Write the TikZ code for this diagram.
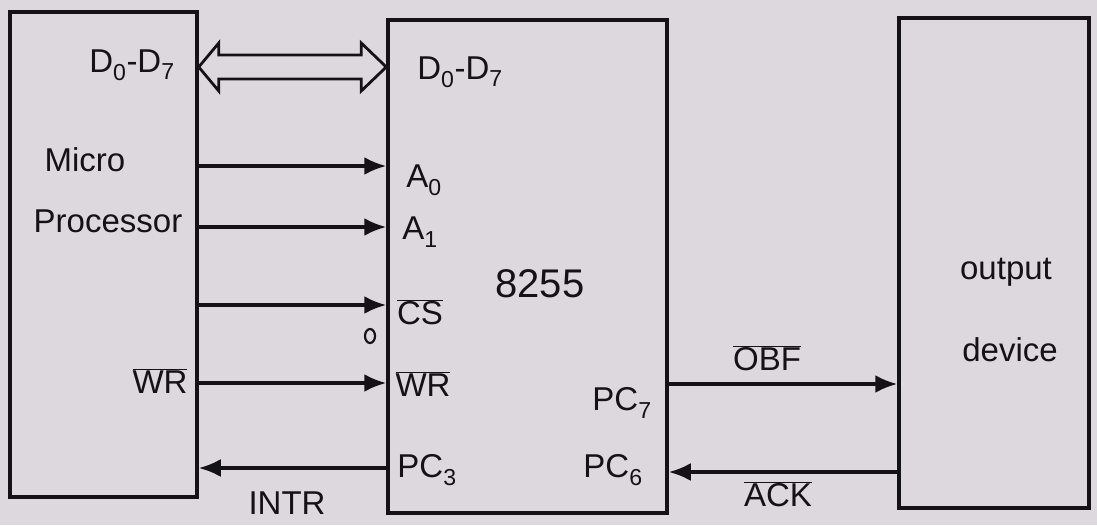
\documentclass[tikz,border=0pt]{standalone}
\usepackage{fontspec}
\setmainfont{Liberation Sans}
\usetikzlibrary{arrows.meta,calc,shapes.geometric}
\definecolor{paper}{RGB}{221,216,222}
\definecolor{ink}{RGB}{20,18,22}
\tikzset{
  blockbox/.style={draw=ink, line width=3.5pt, rectangle, inner sep=0pt},
  sig/.style={draw=ink, line width=3.2pt, -{Latex[length=22pt,width=18pt]}},
  lbl/.style={text=ink, inner sep=0pt, font=\fontsize{33}{37}\selectfont},
  big/.style={text=ink, inner sep=0pt, font=\fontsize{40}{44}\selectfont},
}
\newcommand{\ovl}[1]{$\overline{\mbox{#1}}$}
\begin{document}
\begin{tikzpicture}[x=1pt,y=-1pt]
  % paper
  \fill[paper] (0,0) rectangle (1097,525);
  \useasboundingbox (0,0) rectangle (1097,525);

  % blocks
  \node[blockbox, minimum width=187pt, minimum height=485pt] (mp)  at (103.5,254.5) {};
  \node[blockbox, minimum width=279pt, minimum height=493pt] (ppi) at (527.5,266.5) {};
  \node[blockbox, minimum width=190pt, minimum height=490pt] (out) at (994,263) {};

  % rows of the signal lines
  \coordinate (rD)   at (0,67);
  \coordinate (rA0)  at (0,166);
  \coordinate (rA1)  at (0,227);
  \coordinate (rCS)  at (0,305);
  \coordinate (rWR)  at (0,383);
  \coordinate (rPC3) at (0,468);
  \coordinate (rOBF) at (0,384);
  \coordinate (rACK) at (0,472);

  % hollow bidirectional data bus
  \coordinate (dL) at (mp.east |- rD);
  \coordinate (dR) at (ppi.west |- rD);
  \draw[ink, line width=2.8pt, line join=miter]
    (dL) -- ($(dL)+(20,-24)$) -- ($(dL)+(20,-12)$) -- ($(dR)+(-25,-12)$)
         -- ($(dR)+(-25,-24)$) -- (dR) -- ($(dR)+(-25,24)$) -- ($(dR)+(-25,12)$)
         -- ($(dL)+(20,12)$) -- ($(dL)+(20,24)$) -- cycle;

  % control lines
  \draw[sig] (mp.east |- rA0) -- (ppi.west |- rA0);
  \draw[sig] (mp.east |- rA1) -- (ppi.west |- rA1);
  \draw[sig] (mp.east |- rCS) -- (ppi.west |- rCS);
  \draw[sig] (mp.east |- rWR) -- (ppi.west |- rWR);
  \draw[sig] (ppi.west |- rPC3) -- (mp.east |- rPC3);
  \draw[sig] (ppi.east |- rOBF) -- (out.west |- rOBF);
  \draw[sig] (out.west |- rACK) -- (ppi.east |- rACK);

  % small bubble under the chip-select line
  \node[draw=ink, line width=2.2pt, ellipse, minimum width=10pt, minimum height=14pt, inner sep=0pt] (bub) at (370,336) {};

  % microprocessor labels
  \node[lbl] (mpD)  at (132,65)  {D\textsubscript{0}-D\textsubscript{7}};
  \node[lbl] (mpM)  at (85,160)  {Micro};
  \node[lbl] (mpP)  at (108,221) {Processor};
  \node[lbl] (mpWR) at (160,381) {\ovl{WR}};

  % 8255 labels
  \node[lbl] (pD)   at (460,72)  {D\textsubscript{0}-D\textsubscript{7}};
  \node[lbl] (pA0)  at (424,180) {A\textsubscript{0}};
  \node[lbl] (pA1)  at (420,232) {A\textsubscript{1}};
  \node[lbl] (pCS)  at (420,312) {\ovl{CS}};
  \node[lbl] (pWR)  at (423,384) {\ovl{WR}};
  \node[lbl] (pPC3) at (427,470) {PC\textsubscript{3}};
  \node[big] (chip) at (540,284) {8255};
  \node[lbl] (pPC7) at (622,403) {PC\textsubscript{7}};
  \node[lbl] (pPC6) at (613,470) {PC\textsubscript{6}};

  % line labels
  \node[lbl] (lINTR) at (287,503) {INTR};
  \node[lbl] (lOBF)  at (767,358) {\ovl{OBF}};
  \node[lbl] (lACK)  at (778,494) {\ovl{ACK}};

  % output device labels
  \node[lbl] (oO) at (1006,272) {output};
  \node[lbl] (oD) at (1010,350) {device};
\end{tikzpicture}
\end{document}
